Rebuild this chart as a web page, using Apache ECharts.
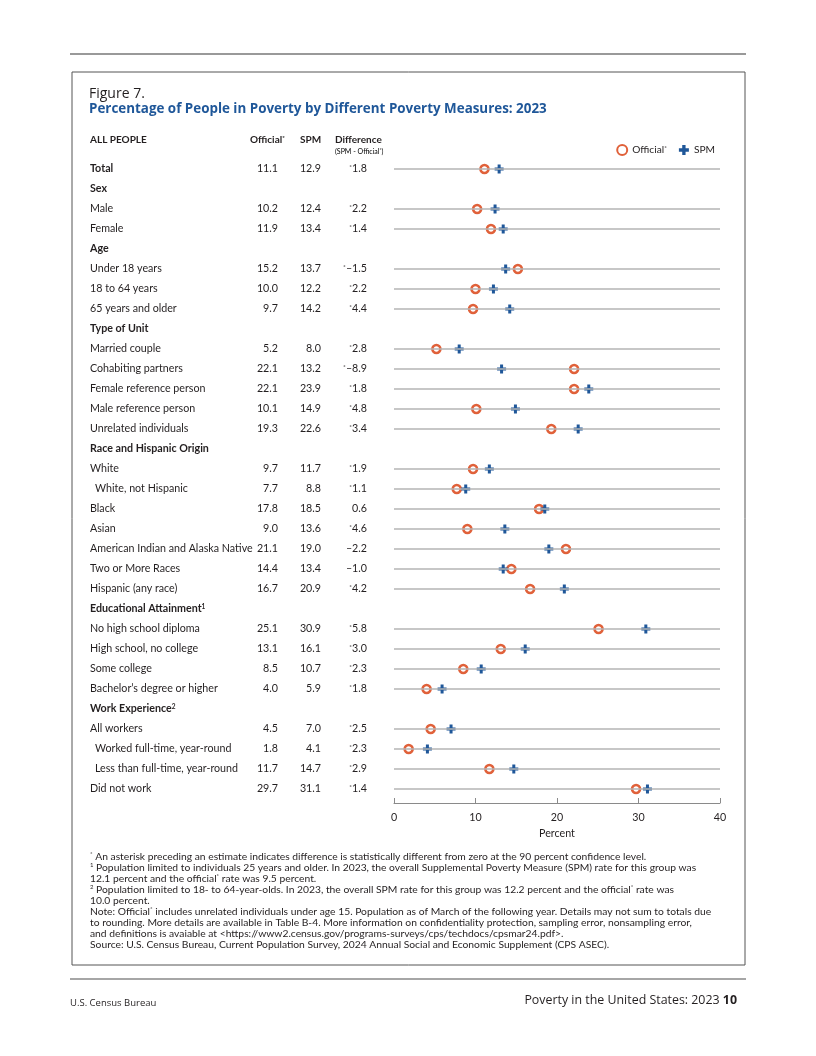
<!DOCTYPE html>
<html><head><meta charset="utf-8">
<script src="https://cdn.jsdelivr.net/npm/echarts@6/dist/echarts.min.js"></script>
<style>html,body{margin:0;padding:0;background:#fff}#c{width:816px;height:1056px}</style>
</head><body><div id="c"></div><script>
const rowLabels = ['Total','Sex','Male','Female','Age','Under 18 years','18 to 64 years','65 years and older',
  'Type of Unit','Married couple','Cohabiting partners','Female reference person','Male reference person','Unrelated individuals',
  'Race and Hispanic Origin','White','White, not Hispanic','Black','Asian','American Indian and Alaska Native','Two or More Races','Hispanic (any race)',
  'Educational Attainment','No high school diploma','High school, no college','Some college',"Bachelor\u2019s degree or higher",
  'Work Experience','All workers','Worked full-time, year-round','Less than full-time, year-round','Did not work'];
const headerRows = ['Sex','Age','Type of Unit','Race and Hispanic Origin','Educational Attainment','Work Experience'];
const headerSup = {'Educational Attainment':'1','Work Experience':'2'};
const indentRows = ['White, not Hispanic','Worked full-time, year-round','Less than full-time, year-round'];
const official = [11.1,null,10.2,11.9,null,15.2,10.0,9.7,null,5.2,22.1,22.1,10.1,19.3,null,9.7,7.7,17.8,9.0,21.1,14.4,16.7,null,25.1,13.1,8.5,4.0,null,4.5,1.8,11.7,29.7];
const spm = [12.9,null,12.4,13.4,null,13.7,12.2,14.2,null,8.0,13.2,23.9,14.9,22.6,null,11.7,8.8,18.5,13.6,19.0,13.4,20.9,null,30.9,16.1,10.7,5.9,null,7.0,4.1,14.7,31.1];
const diffText = ['*1.8',null,'*2.2','*1.4',null,'*\u20131.5','*2.2','*4.4',null,'*2.8','*\u20138.9','*1.8','*4.8','*3.4',null,
  '*1.9','*1.1','0.6','*4.6','\u20132.2','\u20131.0','*4.2',null,'*5.8','*3.0','*2.3','*1.8',null,'*2.5','*2.3','*2.9','*1.4'];
const xTicks = [0, 10, 20, 30, 40];

const BLUE = '#1f5799', ORANGE = '#e0613a', TXT = '#231f20';
const FONT = 'Lato';
const FS = 10.7;
const PLUS = 'path://M3,0H6V3H9V6H6V9H3V6H0V3H3Z';
const sup = {fontSize: 6.5, fontFamily: FONT, color: TXT, verticalAlign: 'top', padding: [0, 0, 4, 0]};
const supB = Object.assign({}, sup, {fontWeight: 'bold'});

const chart = echarts.init(document.getElementById('c'), null, {renderer: 'canvas'});

function colAxis(margin, fmt, rich) {
  return {type: 'category', data: rowLabels, inverse: true, gridIndex: 0, position: 'left',
    axisLine: {show: false}, axisTick: {show: false}, splitLine: {show: false},
    axisLabel: {interval: 0, margin: margin, align: 'right', fontFamily: FONT, fontSize: FS, color: TXT, formatter: fmt, rich: rich}};
}

const lineRows = rowLabels.filter(r => headerRows.indexOf(r) < 0);

chart.setOption({
  animation: false,
  grid: {left: 394, width: 326, top: 159, height: 640, containLabel: false},
  xAxis: {type: 'value', min: 0, max: 40, interval: 10, offset: 4,
    axisLine: {show: true, lineStyle: {color: '#8a8a8a', width: 1}},
    axisTick: {show: true, inside: true, length: 5, lineStyle: {color: '#8a8a8a'}},
    splitLine: {show: false},
    axisLabel: {margin: 9, fontFamily: FONT, fontSize: FS, color: TXT,
      formatter: v => xTicks.indexOf(v) >= 0 ? String(v) : ''},
    name: 'Percent', nameLocation: 'middle', nameGap: 24,
    nameTextStyle: {fontFamily: FONT, fontSize: FS, color: TXT}},
  yAxis: [
    {type: 'category', data: rowLabels, inverse: true, position: 'left',
      axisLine: {show: false}, axisTick: {show: false}, splitLine: {show: false},
      axisLabel: {interval: 0, margin: 304, align: 'left', fontFamily: FONT, fontSize: FS, color: TXT,
        formatter: v => {
          if (v === 'Total') return '{b|Total}';
          if (headerRows.indexOf(v) >= 0) return '{b|' + v + '}' + (headerSup[v] ? '{sb|' + headerSup[v] + '}' : '');
          if (indentRows.indexOf(v) >= 0) return '{i|' + v + '}';
          return v;
        },
        rich: {b: {fontWeight: 'bold', fontFamily: FONT, fontSize: FS, color: TXT},
               sb: supB,
               i: {fontFamily: FONT, fontSize: FS, color: TXT, padding: [0, 0, 0, 5]}}}},
    colAxis(116, (v, i) => official[i] == null ? '' : official[i].toFixed(1)),
    colAxis(73, (v, i) => spm[i] == null ? '' : spm[i].toFixed(1)),
    colAxis(27, (v, i) => {
      const d = diffText[i];
      if (d == null) return '';
      if (d[0] === '*') return '{s|*}{n|' + d.slice(1) + '}';
      return '{n|' + d + '}';
    }, {s: sup, n: {fontFamily: FONT, fontSize: FS, color: TXT}})
  ],
  legend: {right: 96, top: 139, itemWidth: 10, itemHeight: 10, itemGap: 12, selectedMode: false,
    data: [{name: 'Official', icon: 'circle'}, {name: 'SPM', icon: PLUS}],
    formatter: n => n === 'Official' ? '{t|Official}{s|*}' : '{t|SPM}',
    textStyle: {fontFamily: FONT, fontSize: 10.2, color: TXT,
      rich: {t: {fontFamily: FONT, fontSize: 10.2, color: TXT}, s: sup}}},
  series: [
    {name: 'grid-lines', type: 'scatter', z: 1, data: [[0, 0]], symbolSize: 0, silent: true,
      markLine: {silent: true, symbol: 'none', label: {show: false}, animation: false,
        lineStyle: {color: '#b5b5b5', width: 1.5, type: 'solid'},
        data: lineRows.map(r => ({yAxis: r}))}},
    {name: 'Official', type: 'scatter', z: 3, symbol: 'circle', symbolSize: 8,
      itemStyle: {color: '#ffffff', borderColor: ORANGE, borderWidth: 2.6, opacity: 1},
      data: official.map((v, i) => v == null ? null : [v, i]).filter(d => d)},
    {name: 'SPM', type: 'scatter', z: 4, symbol: PLUS, symbolSize: 9,
      itemStyle: {color: BLUE, opacity: 1},
      data: spm.map((v, i) => v == null ? null : [v, i]).filter(d => d)}
  ],
  graphic: [
    {type: 'line', shape: {x1: 70, y1: 54, x2: 746, y2: 54}, style: {stroke: '#777', lineWidth: 1.5}, silent: true},
    {type: 'rect', shape: {x: 72, y: 72, width: 673, height: 893}, style: {fill: 'none', stroke: '#555', lineWidth: 1}, silent: true},
    {type: 'line', shape: {x1: 70, y1: 979, x2: 746, y2: 979}, style: {stroke: '#888', lineWidth: 1.5}, silent: true},
    {type: 'text', left: 89, top: 87, style: {text: 'Figure 7.', font: '14px "Open Sans"', fill: TXT}},
    {type: 'text', left: 89, top: 103, style: {text: 'Percentage of People in Poverty by Different Poverty Measures: 2023', font: 'bold 13.4px "Open Sans"', fill: BLUE}},
    {type: 'text', left: 90, top: 135, style: {text: 'ALL PEOPLE', font: 'bold 10px ' + FONT, fill: TXT}},
    {type: 'text', left: 250, top: 135, style: {text: '{b|Official}{s|*}', rich: {b: {font: 'bold 10px ' + FONT, fill: TXT}, s: Object.assign({}, supB, {fontSize: 6})}}},
    {type: 'text', left: 300, top: 135, style: {text: 'SPM', font: 'bold 10px ' + FONT, fill: TXT}},
    {type: 'text', left: 335, top: 135, style: {text: 'Difference', font: 'bold 10px ' + FONT, fill: TXT}},
    {type: 'text', left: 335, top: 148, style: {text: '{t|(SPM - Official}{s|*}{t|)}', rich: {t: {fontFamily: FONT, fontSize: 7, color: TXT}, s: Object.assign({}, sup, {fontSize: 5, padding: [0, 0, 2, 0]})}}},
    {type: 'text', left: 90, top: 851, style: {
      text: [
        '{s|*} An asterisk preceding an estimate indicates difference is statistically different from zero at the 90 percent confidence level.',
        '{s|1} Population limited to individuals 25 years and older. In 2023, the overall Supplemental Poverty Measure (SPM) rate for this group was',
        '12.1 percent and the official{s|*} rate was 9.5 percent.',
        '{s|2} Population limited to 18- to 64-year-olds. In 2023, the overall SPM rate for this group was 12.2 percent and the official{s|*} rate was',
        '10.0 percent.',
        'Note: Official{s|*} includes unrelated individuals under age 15. Population as of March of the following year. Details may not sum to totals due',
        'to rounding. More details are available in Table B-4. More information on confidentiality protection, sampling error, nonsampling error,',
        'and definitions is avaiable at <https://www2.census.gov/programs-surveys/cps/techdocs/cpsmar24.pdf>.',
        'Source: U.S. Census Bureau, Current Population Survey, 2024 Annual Social and Economic Supplement (CPS ASEC).'
      ].join('\n'),
      font: '10.3px ' + FONT, fill: TXT, lineHeight: 11,
      rich: {s: {fontSize: 6, fontFamily: FONT, fill: TXT, verticalAlign: 'top', lineHeight: 11, padding: [0, 0, 4, 0]}}}},
    {type: 'text', left: 70, top: 998, style: {text: 'U.S. Census Bureau', font: '9.5px "Open Sans"', fill: TXT}},
    {type: 'text', right: 79, top: 994, style: {text: '{n|Poverty in the United States: 2023 }{b|10}',
      rich: {n: {font: '12.4px "Open Sans"', fill: TXT}, b: {font: 'bold 12.4px "Open Sans"', fill: TXT}}}}
  ]
});
</script></body></html>
